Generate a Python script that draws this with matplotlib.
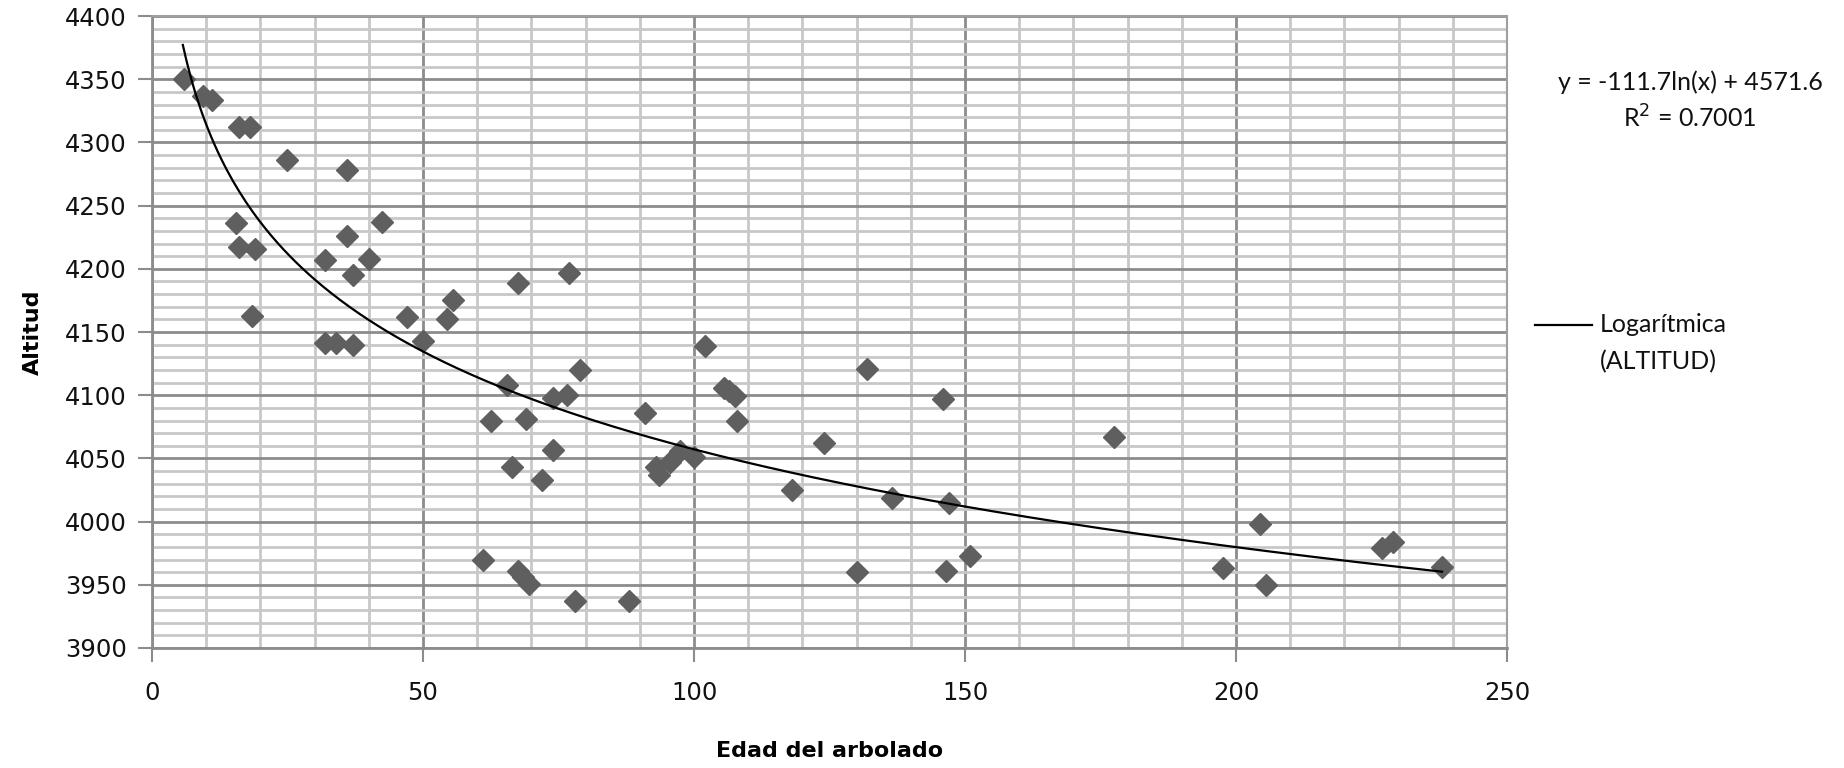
import numpy as np
import matplotlib
matplotlib.use('Agg')
import matplotlib.pyplot as plt
from matplotlib.ticker import MultipleLocator
from matplotlib.lines import Line2D

# Data: age of stand vs altitude
edad = [6, 9.5, 11, 16, 18, 25, 36, 15.5, 16, 19, 36, 42.5, 32, 40, 37,
        18.5, 47, 55.6, 54.4, 67.5, 77, 32, 34, 37, 50, 79,
        65.5, 62.5, 69, 74, 76.5, 74, 66.5, 72, 61, 67.5, 68.5, 69.5, 78, 88,
        102, 132, 146, 105.5, 106.5, 107.5, 108, 91, 124, 93.5, 93, 95.5,
        97.5, 100, 118, 136.5, 147, 151, 130, 146.5,
        177.5, 204.5, 197.5, 205.5, 227, 229, 238]
altitud = [4350, 4337, 4334, 4312, 4312, 4286, 4278, 4236, 4217, 4216, 4226,
           4237, 4207, 4208, 4195, 4163, 4162, 4175, 4160, 4189, 4197, 4141,
           4141, 4140, 4143, 4120,
           4108, 4080, 4081, 4098, 4100, 4057, 4043, 4033, 3970, 3961, 3956,
           3951, 3937, 3937,
           4139, 4121, 4097, 4106, 4103, 4099, 4080, 4086, 4062, 4037, 4043,
           4047, 4056, 4051, 4025, 4019, 4015, 3973, 3960, 3961,
           4067, 3998, 3963, 3950, 3979, 3984, 3964]

# Logarithmic trend line as reported on the chart
coef_a = -111.7
coef_b = 4571.6
r2 = 0.7001

fig = plt.figure(figsize=(18.44, 7.68), dpi=100)
ax = fig.add_axes([0.0824, 0.1563, 0.7349, 0.8227])

ax.set_xlim(0, 250)
ax.set_ylim(3900, 4400)
ax.xaxis.set_major_locator(MultipleLocator(50))
ax.xaxis.set_minor_locator(MultipleLocator(10))
ax.yaxis.set_major_locator(MultipleLocator(50))
ax.yaxis.set_minor_locator(MultipleLocator(10))

ax.grid(which='minor', color='#c8c8c8', linewidth=2.0, zorder=0)
ax.grid(which='major', color='#8c8c8c', linewidth=2.0, zorder=0)
ax.set_axisbelow(True)

for side in ['top', 'right']:
    ax.spines[side].set_color('#a0a0a0')
    ax.spines[side].set_linewidth(1.5)
for side in ['left', 'bottom']:
    ax.spines[side].set_color('#8c8c8c')
    ax.spines[side].set_linewidth(2.0)

ax.tick_params(which='major', length=10, width=1.5, color='#8c8c8c',
               labelsize=17.5, labelcolor='#111111', pad=8)
ax.tick_params(axis='x', which='major', pad=14)
ax.tick_params(which='minor', length=0)

ax.plot(edad, altitud, linestyle='none', marker='D', markersize=11,
        color='#5f5f5f', markeredgecolor='#5f5f5f', zorder=3)

xs = np.linspace(min(edad) - 0.3, max(edad), 400)
ax.plot(xs, coef_a * np.log(xs) + coef_b, color='black', linewidth=1.6,
        zorder=4)

ax.set_xlabel('Edad del arbolado', fontsize=16, fontweight='bold',
              labelpad=26)
ax.set_ylabel('Altitud', fontsize=16, fontweight='bold', labelpad=16)

# Trend line equation and legend, outside the plot on the right
fig.text(0.9165, 0.893, 'y = -111.7ln(x) + 4571.6', ha='center', va='center',
         fontsize=18, family='Lato', color='#111111')
fig.text(0.9165, 0.847, 'R$^2$ = %.4f' % r2, ha='center', va='center',
         fontsize=18, family='Lato', color='#111111')
fig.add_artist(Line2D([0.8325, 0.8635], [0.577, 0.577], color='black',
                      linewidth=1.6))
fig.text(0.8675, 0.577, 'Logarítmica', ha='left', va='center', fontsize=18,
         family='Lato', color='#111111')
fig.text(0.8675, 0.529, '(ALTITUD)', ha='left', va='center', fontsize=18,
         family='Lato', color='#111111')

fig.savefig('out.png', dpi=100)
